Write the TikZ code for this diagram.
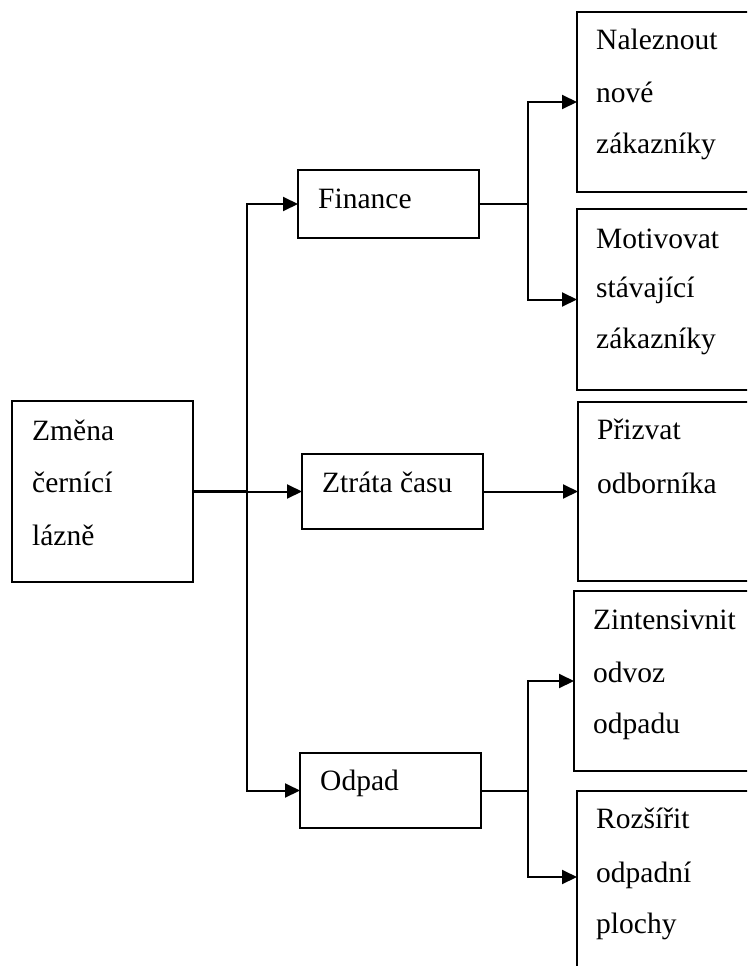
\documentclass[tikz,border=0pt]{standalone}
\usepackage{fontspec}
\setmainfont{Liberation Serif}
\usetikzlibrary{arrows.meta}
\begin{document}
\begin{tikzpicture}[x=1pt,y=-1pt,
  box/.style={draw,line width=2pt,rectangle,inner sep=0pt,outer sep=0pt,anchor=north west},
  txt/.style={anchor=base west,inner sep=0pt,font=\fontsize{29.5}{52}\selectfont},
  link/.style={line width=2pt},
  arr/.style={line width=2pt,-{Triangle[length=15pt,width=14pt]}}]
\clip (0,0) rectangle (747,966);

% boxes
\node[box,minimum width=181pt,minimum height=181pt] (main) at (12,401) {};
\node[box,minimum width=181pt,minimum height=68pt]  (fin)  at (298,170) {};
\node[box,minimum width=181pt,minimum height=75pt]  (ztr)  at (302,454) {};
\node[box,minimum width=181pt,minimum height=75pt]  (odp)  at (300,753) {};
\node[box,minimum width=200pt,minimum height=180pt] (nal)  at (577,12) {};
\node[box,minimum width=200pt,minimum height=181pt] (mot)  at (577,209) {};
\node[box,minimum width=200pt,minimum height=179pt] (pri)  at (578,402) {};
\node[box,minimum width=200pt,minimum height=180pt] (zin)  at (574,591) {};
\node[box,minimum width=200pt,minimum height=220pt] (roz)  at (577,791) {};

% texts
\node[txt] (m1) at (32,440) {Změna};
\node[txt] (m2) at (32,492) {černící};
\node[txt] (m3) at (32,545) {lázně};
\node[txt] (f1) at (318,208) {Finance};
\node[txt] (z1) at (322,492) {Ztráta času};
\node[txt] (o1) at (320,790) {Odpad};
\node[txt] (n1) at (596,50)  {Naleznout};
\node[txt] (n2) at (596,102) {nové};
\node[txt] (n3) at (596,153) {zákazníky};
\node[txt] (v1) at (596,248) {Motivovat};
\node[txt] (v2) at (596,297) {stávající};
\node[txt] (v3) at (596,348) {zákazníky};
\node[txt] (p1) at (597,439) {Přizvat};
\node[txt] (p2) at (597,493) {odborníka};
\node[txt] (i1) at (593,629) {Zintensivnit};
\node[txt] (i2) at (593,682) {odvoz};
\node[txt] (i3) at (593,733) {odpadu};
\node[txt] (r1) at (596,828) {Rozšířit};
\node[txt] (r2) at (596,882) {odpadní};
\node[txt] (r3) at (596,933) {plochy};

% junction points
\coordinate (trunk) at (247,491.5);
\coordinate (finj)  at (528,204);
\coordinate (odpj)  at (528,790.5);
\coordinate (rozin) at (577,877);

% connectors
\draw[line width=3pt] (main.east) -- (trunk);
\draw[arr] (trunk) -- (ztr.west);
\draw[arr] (trunk) |- (fin.west);
\draw[arr] (trunk) |- (odp.west);
\draw[link] (fin.east) -- (finj);
\draw[arr] (finj) |- (nal.west);
\draw[arr] (finj) |- (mot.west);
\draw[arr] (ztr.east) -- (pri.west);
\draw[link] (odp.east) -- (odpj);
\draw[arr] (odpj) |- (zin.west);
\draw[arr] (odpj) |- (rozin);
\end{tikzpicture}
\end{document}
